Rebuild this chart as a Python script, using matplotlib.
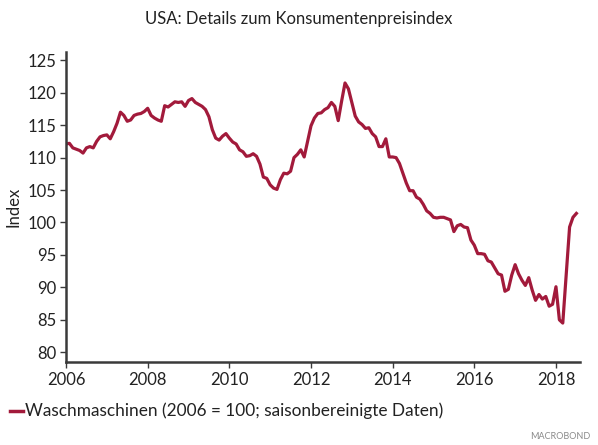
import matplotlib
matplotlib.use("Agg")
import matplotlib.pyplot as plt
import numpy as np
import pandas as pd

plt.rcParams['font.family'] = ['Lato', 'DejaVu Sans']

title = "USA: Details zum Konsumentenpreisindex"
series_label = "Waschmaschinen (2006 = 100; saisonbereinigte Daten)"
y_label = "Index"
start_month = "2006-01"

values = [
    112.1, 112.2, 111.5, 111.3, 111.1, 110.7, 111.5, 111.7, 111.5, 112.5, 113.2, 113.4,
    113.5, 112.9, 114.0, 115.3, 117.0, 116.5, 115.6, 115.8, 116.5, 116.7, 116.8, 117.1,
    117.6, 116.5, 116.1, 115.8, 115.6, 118.0, 117.8, 118.2, 118.6, 118.5, 118.6, 117.9,
    118.8, 119.1, 118.5, 118.2, 117.9, 117.4, 116.3, 114.3, 113.0, 112.7, 113.3, 113.7,
    113.0, 112.4, 112.1, 111.2, 110.9, 110.2, 110.3, 110.6, 110.2, 109.0, 107.0, 106.8,
    105.8, 105.3, 105.1, 106.6, 107.6, 107.5, 107.9, 110.0, 110.5, 111.2, 110.1, 112.5,
    114.9, 116.1, 116.8, 116.9, 117.4, 117.7, 118.5, 117.9, 115.7, 118.7, 121.5, 120.6,
    118.5, 116.4, 115.5, 115.1, 114.5, 114.6, 113.7, 113.2, 111.7, 111.7, 112.9, 110.1,
    110.1, 110.0, 109.1, 107.6, 106.1, 104.9, 104.9, 103.9, 103.6, 102.8, 101.8, 101.4,
    100.8, 100.7, 100.8, 100.8, 100.6, 100.4, 98.6, 99.5, 99.7, 99.3, 99.2, 97.3,
    96.5, 95.2, 95.2, 95.1, 94.1, 93.9, 93.0, 92.1, 91.9, 89.4, 89.7, 91.9,
    93.5, 92.1, 91.1, 90.3, 91.5, 89.6, 88.0, 88.9, 88.2, 88.6, 87.1, 87.4,
    90.1, 85.0, 84.5, 92.0, 99.3, 100.8, 101.4,
]
y_ticks = [80, 85, 90, 95, 100, 105, 110, 115, 120, 125]
x_tick_years = [2006, 2008, 2010, 2012, 2014, 2016, 2018]

dates = pd.date_range(start_month, periods=len(values), freq="MS")
xdec = dates.year + (dates.month - 1) / 12.0

color = "#A21A3B"
axis_color = "#3a3a3a"

fig = plt.figure(figsize=(5.98, 4.45), dpi=100)
ax = fig.add_axes([0.1104, 0.1865, 0.8596, 0.697])

ax.plot(xdec, values, color=color, lw=2.3, solid_joinstyle="round")

ax.set_xlim(2006.0, 2018.59)
ax.set_ylim(78.5, 126.3)
ax.set_yticks(y_ticks)
ax.set_yticklabels([str(v) for v in y_ticks])
ax.set_xticks(x_tick_years)
ax.set_xticklabels([str(v) for v in x_tick_years])

for s in ["top", "right"]:
    ax.spines[s].set_visible(False)
for s in ["left", "bottom"]:
    ax.spines[s].set_color(axis_color)
    ax.spines[s].set_linewidth(1.8)
ax.tick_params(axis="both", direction="out", length=4, width=1.0, color=axis_color,
               labelsize=12, labelcolor="#222222", pad=3)

ax.set_ylabel(y_label, fontsize=12, color="#222222", labelpad=4)

fig.text(0.5, 0.958, title, ha="center", va="center", fontsize=12, color="#222222")

# legend entry
fig.add_artist(plt.Line2D([0.017, 0.038], [0.076, 0.076], color=color, lw=2.5,
                          transform=fig.transFigure))
fig.text(0.042, 0.076, series_label, ha="left", va="center", fontsize=12.4, color="#222222")

fig.text(0.987, 0.018, "MACROBOND", ha="right", va="center", fontsize=6.5,
         color="#8a8a8a")

fig.savefig("out.png", dpi=100)
